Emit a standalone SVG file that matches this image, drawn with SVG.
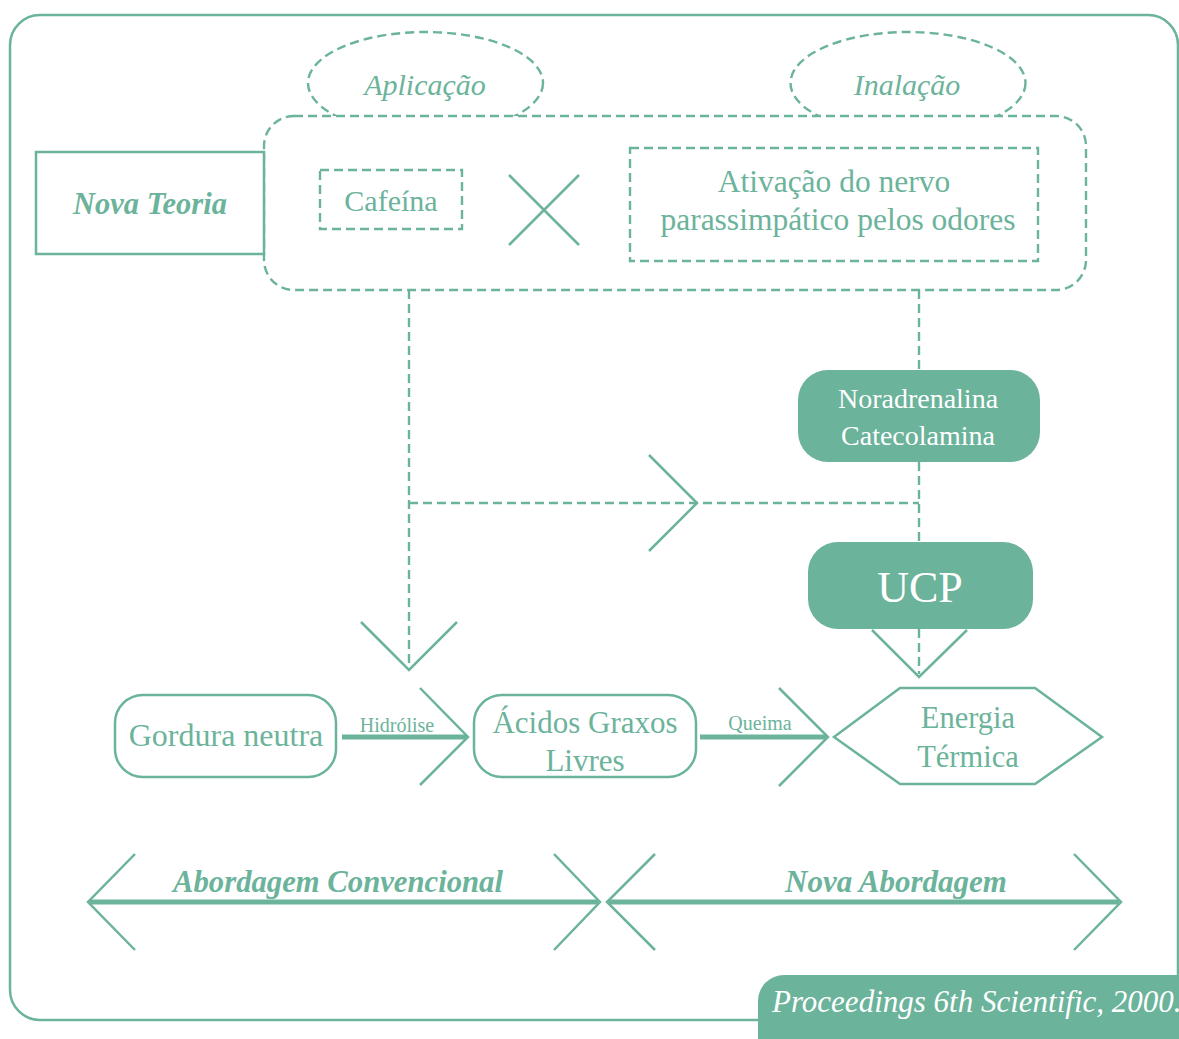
<svg xmlns="http://www.w3.org/2000/svg" width="1179" height="1039" viewBox="0 0 1179 1039">
<defs>
<style>
.ln{fill:none;stroke:#6bb39b;stroke-width:2.5}
.dash{fill:none;stroke:#6bb39b;stroke-width:2.4;stroke-dasharray:9 5}
.thick{fill:none;stroke:#6bb39b;stroke-width:5}
.fill{fill:#6bb39b;stroke:none}
.t{font-family:"Liberation Serif","Times New Roman",serif;fill:#6bb39b;text-anchor:middle}
.w{fill:#ffffff}
.i{font-style:italic}
.b{font-weight:bold}
</style>
</defs>
<rect width="1179" height="1039" fill="#ffffff"/>
<g id="frame">
<rect class="ln" x="10" y="15" width="1168" height="1005" rx="30"/>
</g>
<g id="aplicacao">
<ellipse class="dash" cx="425.5" cy="83" rx="117.5" ry="51"/>
<text class="t i" x="425" y="95" font-size="30">Aplicação</text>
</g>
<g id="inalacao">
<ellipse class="dash" cx="908" cy="83" rx="117.5" ry="51"/>
<text class="t i" x="907" y="95" font-size="30">Inalação</text>
</g>
<g id="group-box">
<rect class="dash" x="264" y="116" width="822" height="174" rx="30" style="fill:#ffffff"/>
</g>
<g id="nova-teoria">
<rect class="ln" x="36" y="152" width="228" height="102" style="fill:#ffffff"/>
<text class="t i b" x="150" y="214" font-size="30.5">Nova Teoria</text>
</g>
<g id="cafeina">
<rect class="dash" x="320" y="170" width="142" height="59"/>
<text class="t" x="391" y="211" font-size="30">Cafeína</text>
</g>
<g id="cross">
<line class="ln" x1="509" y1="175" x2="579" y2="245"/>
<line class="ln" x1="579" y1="175" x2="509" y2="245"/>
</g>
<g id="ativacao">
<rect class="dash" x="630" y="148" width="408" height="113"/>
<text class="t" x="834" y="192" font-size="31.5">Ativação do nervo</text>
<text class="t" x="838" y="230" font-size="31.5">parassimpático pelos odores</text>
</g>
<g id="connectors">
<line class="dash" x1="409" y1="290" x2="409" y2="668"/>
<line class="dash" x1="919" y1="290" x2="919" y2="370"/>
<line class="dash" x1="919" y1="462" x2="919" y2="541"/>
<line class="dash" x1="409" y1="503" x2="919" y2="503"/>
<polyline class="ln" points="649,455 697,503 649,551"/>
<polyline class="ln" points="361,622 409,670 457,622"/>
<line class="dash" x1="919" y1="629" x2="919" y2="674"/>
<polyline class="ln" points="872,630 919,677 967,630"/>
<line class="thick" x1="342" y1="737" x2="466" y2="737"/>
<polyline class="ln" points="420,688 468,737 420,785"/>
<text class="t" x="397" y="732" font-size="20">Hidrólise</text>
<line class="thick" x1="700" y1="737" x2="826" y2="737"/>
<polyline class="ln" points="779,688 828,737 779,786"/>
<text class="t" x="760" y="730" font-size="20">Queima</text>
</g>
<g id="noradrenalina">
<rect class="fill" x="798" y="370" width="242" height="92" rx="30"/>
<text class="t w" x="918" y="408" font-size="28">Noradrenalina</text>
<text class="t w" x="918" y="445" font-size="28">Catecolamina</text>
</g>
<g id="ucp">
<rect class="fill" x="808" y="542" width="225" height="87" rx="30"/>
<text class="t w" x="920" y="602" font-size="44">UCP</text>
</g>
<g id="gordura">
<rect class="ln" x="115" y="695" width="221" height="82" rx="28"/>
<text class="t" x="226" y="746" font-size="32">Gordura neutra</text>
</g>
<g id="acidos">
<rect class="ln" x="474" y="695" width="222" height="82" rx="28"/>
<text class="t" x="585" y="733" font-size="31">Ácidos Graxos</text>
<text class="t" x="585" y="771" font-size="31">Livres</text>
</g>
<g id="energia">
<polygon class="ln" points="834,737 900,688 1035,688 1102,737 1035,784 900,784"/>
<text class="t" x="968" y="728" font-size="30.5">Energia</text>
<text class="t" x="968" y="767" font-size="30.5">Térmica</text>
</g>
<g id="abordagem-convencional">
<line class="thick" x1="90" y1="902" x2="598" y2="902"/>
<polyline class="ln" points="135,854 88,902 135,950"/>
<polyline class="ln" points="554,854 600,902 554,950"/>
<text class="t i b" x="338" y="892" font-size="30.7">Abordagem Convencional</text>
</g>
<g id="nova-abordagem">
<line class="thick" x1="609" y1="902" x2="1119" y2="902"/>
<polyline class="ln" points="655,854 607,902 655,950"/>
<polyline class="ln" points="1074,854 1121,902 1074,950"/>
<text class="t i b" x="896" y="892" font-size="31">Nova Abordagem</text>
</g>
<g id="proceedings">
<rect class="fill" x="758" y="975" width="460" height="90" rx="26"/>
<text class="t w i" x="772" y="1012" font-size="31" style="text-anchor:start">Proceedings 6th Scientific, 2000.</text>
</g>
</svg>
